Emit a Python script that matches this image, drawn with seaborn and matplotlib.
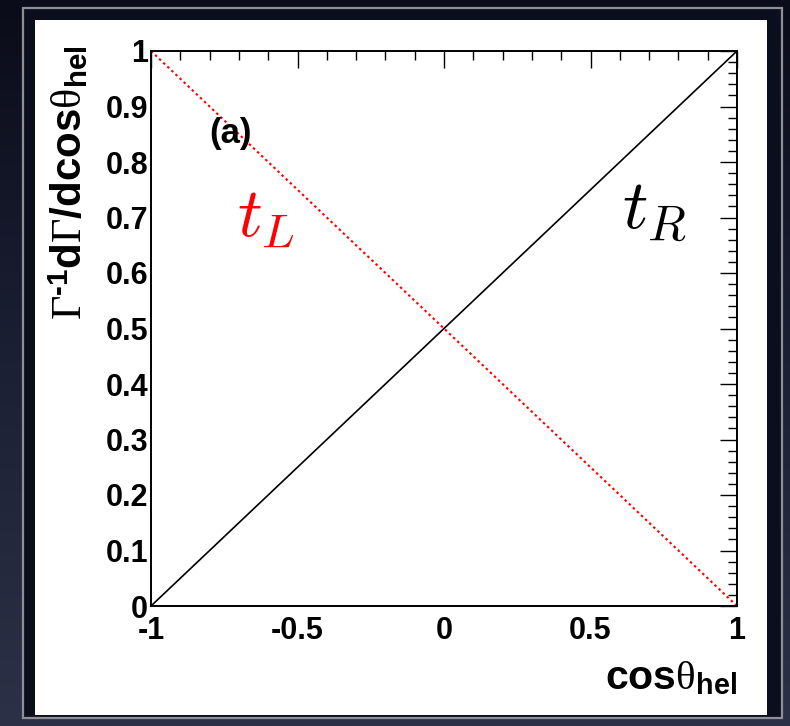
import numpy as np
import pandas as pd
import seaborn as sns
import matplotlib
matplotlib.use("Agg")
import matplotlib.pyplot as plt
from matplotlib.patches import Rectangle
from matplotlib.colors import LinearSegmentedColormap
from matplotlib.ticker import FixedLocator, MultipleLocator

# ---- data ----
cos_theta = [-1.0, -0.5, 0.0, 0.5, 1.0]
t_R = [0.0, 0.25, 0.5, 0.75, 1.0]
t_L = [1.0, 0.75, 0.5, 0.25, 0.0]
x_ticks = [-1.0, -0.5, 0.0, 0.5, 1.0]
x_tick_labels = ["-1", "-0.5", "0", "0.5", "1"]
y_ticks = [0.0, 0.1, 0.2, 0.3, 0.4, 0.5, 0.6, 0.7, 0.8, 0.9, 1.0]
y_tick_labels = ["0", "0.1", "0.2", "0.3", "0.4", "0.5", "0.6", "0.7", "0.8", "0.9", "1"]

df = pd.DataFrame({"cos": cos_theta, "tR": t_R, "tL": t_L})

sns.set_theme(style="white")
plt.rcParams.update({
    "font.family": ["Liberation Sans", "DejaVu Sans"],
    "mathtext.fontset": "custom",
    "mathtext.rm": "Liberation Serif",
    "mathtext.it": "Liberation Serif:italic",
    "mathtext.bf": "Liberation Sans:bold",
    "mathtext.sf": "Liberation Sans",
})

W, H = 790, 726
fig = plt.figure(figsize=(W / 100, H / 100), dpi=100)
fig.patch.set_facecolor("#151828")


def fx(px):
    return px / W


def fy(py):
    return 1 - py / H


# background gradient + slide frame
bg = fig.add_axes([0, 0, 1, 1])
bg.set_axis_off()
grad = np.linspace(0, 1, 256)[:, None]
cmap = LinearSegmentedColormap.from_list("bg", ["#0a0c19", "#1c2034", "#2c3147"])
bg.imshow(grad, aspect="auto", cmap=cmap, extent=[0, 1, 0, 1], origin="upper")
bg.set_xlim(0, 1)
bg.set_ylim(0, 1)
bg.add_patch(Rectangle((fx(23), fy(718)), fx(782) - fx(23), fy(8) - fy(718),
                       facecolor="#0b0e1c", edgecolor="#8e8e96", lw=1.6, zorder=2))
bg.add_patch(Rectangle((fx(35), fy(715)), fx(767) - fx(35), fy(20) - fy(715),
                       facecolor="white", edgecolor="none", zorder=3))

# main axes
ax = fig.add_axes([fx(151), fy(606), fx(737) - fx(151), fy(51) - fy(606)])
ax.set_zorder(5)
ax.set_facecolor("white")

sns.lineplot(data=df, x="cos", y="tR", color="black", lw=1.2, ax=ax)
sns.lineplot(data=df, x="cos", y="tL", color="red", lw=1.5, ax=ax)
ax.lines[-1].set_linestyle((0, (1.2, 1.5)))

ax.set_xlim(-1, 1)
ax.set_ylim(0, 1)
ax.xaxis.set_major_locator(FixedLocator(x_ticks))
ax.set_xticklabels(x_tick_labels)
ax.xaxis.set_minor_locator(MultipleLocator(0.1))
ax.yaxis.set_major_locator(FixedLocator(y_ticks))
ax.set_yticklabels(y_tick_labels)
ax.yaxis.set_minor_locator(MultipleLocator(0.02))

ax.tick_params(which="both", direction="in", top=True, right=True, color="black",
               width=1.0)
ax.tick_params(which="major", length=12.5, labelsize=22)
ax.tick_params(which="minor", length=6.2)
ax.tick_params(axis="x", which="major", pad=7)
ax.tick_params(axis="y", which="major", pad=2)
for lab in ax.get_xticklabels() + ax.get_yticklabels():
    lab.set_fontweight("bold")
    lab.set_color("black")
for s in ax.spines.values():
    s.set_color("black")
    s.set_linewidth(1.4)
ax.set_xlabel("")
ax.set_ylabel("")
ax.grid(False)

# labels
xlab = fig.text(0.5, 0.5, r"$\mathbf{cos}\mathrm{\theta}_{\mathbf{hel}}$",
                fontsize=29, ha="left", va="bottom", color="black")
ylab = fig.text(0.5, 0.5,
                "$\\Gamma^{\\mathbf{\u2010}\\mathbf{1}}\\mathbf{d}\\Gamma\\mathbf{/dcos}\\mathrm{\\theta}_{\\mathbf{hel}}$",
                fontsize=30, rotation=90, ha="left", va="bottom", color="black")
txt_a = ax.text(-0.727, 0.852, "(a)", fontsize=25, fontweight="bold", ha="center",
                va="center", color="black")
txt_L = ax.text(0.5, 0.5, r"$t_L$", color="red", fontsize=49, math_fontfamily="cm",
                ha="left", va="bottom", transform=fig.transFigure)
txt_R = ax.text(0.5, 0.5, r"$t_R$", color="black", fontsize=49, math_fontfamily="cm",
                ha="left", va="bottom", transform=fig.transFigure)


def fit(t, x0, y0, x1, y1, by="w"):
    """Scale and place a text so its box spans the given pixel box (top-left origin)."""
    r = fig.canvas.get_renderer()
    bb = t.get_window_extent(r)
    if by == "w":
        t.set_fontsize(t.get_fontsize() * (x1 - x0) / bb.width)
    else:
        t.set_fontsize(t.get_fontsize() * (y1 - y0) / bb.height)
    bb = t.get_window_extent(r)
    px, py = t.get_position()
    dx = x0 - bb.x0
    dy = (H - y0) - bb.y1
    t.set_position((px + dx / W, py + dy / H))


fit(xlab, 605, 659, 737, 702, by="w")
fit(ylab, 48, 45, 100, 320, by="h")
fit(txt_L, 237, 187, 295, 240, by="w")
fit(txt_R, 622, 178, 687, 228, by="w")

fig.savefig("out.png", dpi=100, facecolor=fig.get_facecolor())
